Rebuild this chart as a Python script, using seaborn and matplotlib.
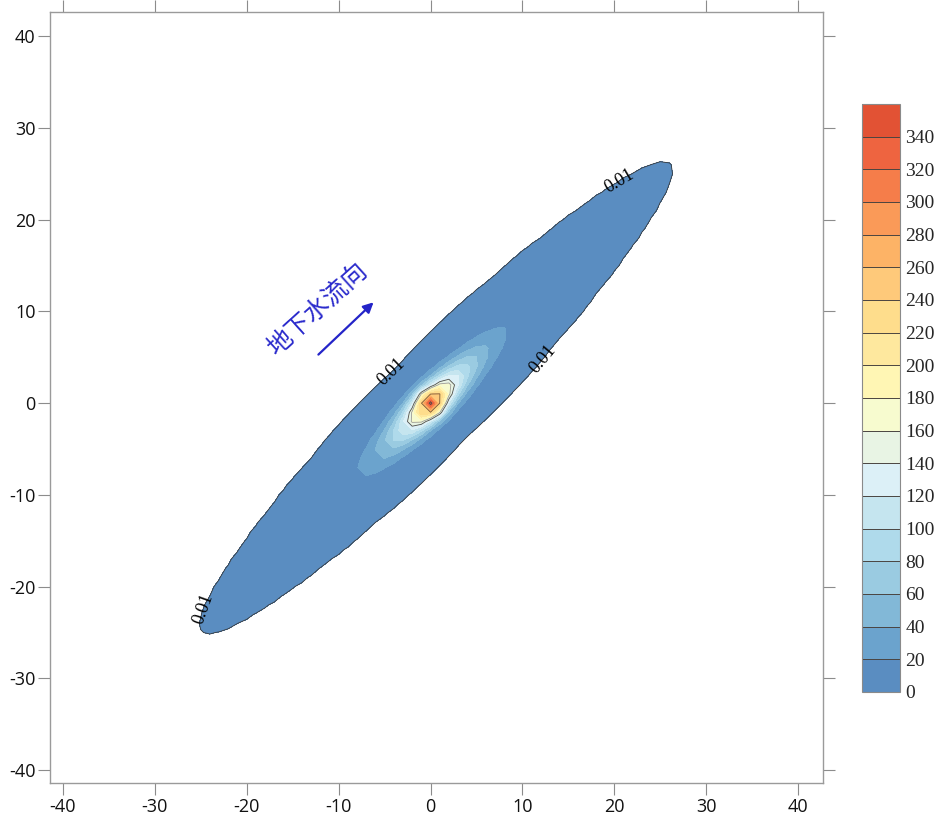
import numpy as np
import matplotlib
matplotlib.use("Agg")
import matplotlib.pyplot as plt
import matplotlib.cm as cm
from matplotlib.colors import ListedColormap, BoundaryNorm
import seaborn as sns

# ---- concentration classes and their fill colours -------------------------
class_bounds = list(range(0, 361, 20))          # colour-scale boundaries
fill_hex = [
    "#5a8dc1", "#6ba3cd", "#82b8d7", "#9acbe1", "#afdaeb", "#c5e5ef",
    "#dcf0f7", "#e8f4e4", "#f7fbcf", "#fff6b4", "#fee89e", "#fedd8c",
    "#fec97a", "#fdb366", "#fa9a58", "#f57d4a", "#ee6440", "#e25234",
]
plume_edge = 0.01                                # outermost contour (labelled)
line_levels = [140, 160, 240, 340]               # inner isolines
line_colors = ["#4d4d4d", "#9a9a9a", "#7a5a3a", "#4d4d4d"]
edge_label_pos = [(20.5, 24.3), (-3.5, 2.6), (11.7, 5.3), (-24.6, -22.4)]

# ---- plume model (u: along groundwater flow, v: across) -------------------
peak_conc = 358.0
flow_angle_deg = 45.0
stretch_upstream = 0.973
stretch_downstream = 1.02
along_lin, along_pow, along_quad = 0.29, 0.9, 0.0024
across_width = 1.59
spread_gain, spread_scale = 0.21, 7.0

grid = np.arange(-41.0, 43.0, 1.0)
X, Y = np.meshgrid(grid, grid)
th = np.deg2rad(flow_angle_deg)
U = X * np.cos(th) + Y * np.sin(th)
V = -X * np.sin(th) + Y * np.cos(th)
Ue = np.abs(U) / np.where(U >= 0, stretch_downstream, stretch_upstream)
S = 1.0 + spread_gain * (1 - np.exp(-np.abs(U) / spread_scale))
decay = (along_lin * Ue ** along_pow + along_quad * Ue ** 2
         + (V / (across_width * S)) ** 2)
C = peak_conc * np.exp(-decay)

# ---- figure -----------------------------------------------------------------
sns.set_style("ticks")
plt.rcParams["font.family"] = ["Open Sans", "DejaVu Sans"]
plt.rcParams["axes.unicode_minus"] = False

fig = plt.figure(figsize=(9.4, 8.23), dpi=100)
ax = fig.add_axes([50 / 940, 40 / 823, 773 / 940, 771.5 / 823])

fill_levels = [plume_edge] + class_bounds[1:]
ax.contourf(X, Y, C, levels=fill_levels, colors=fill_hex)
ax.contour(X, Y, C, levels=line_levels, colors=line_colors, linewidths=0.6)
edge = ax.contour(X, Y, C, levels=[plume_edge], colors="#3a3a3a", linewidths=0.6)
labels = ax.clabel(edge, fmt={plume_edge: "0.01"}, manual=edge_label_pos,
                   inline=False, fontsize=13, colors="black")
for t in labels:
    t.set_fontfamily(["Liberation Serif"])
    t.set_fontsize(13)

# flow direction annotation
ax.annotate("", xy=(-6.2, 11.0), xytext=(-12.2, 5.3),
            arrowprops=dict(arrowstyle="-|>", color="#2424c8", lw=1.6,
                            mutation_scale=15, shrinkA=0, shrinkB=0))
ax.text(-12.3, 10.2, "地下水流向", rotation=42, color="#2a2acc", fontsize=18,
        family=["Noto Sans CJK SC", "DejaVu Sans"], ha="center", va="center",
        rotation_mode="anchor")

ax.set_xlim(-41.4, 42.7)
ax.set_ylim(-41.4, 42.7)
ticks = list(range(-40, 41, 10))
ax.set_xticks(ticks)
ax.set_yticks(ticks)
ax.tick_params(axis="both", direction="out", length=8.5, width=0.8,
               color="#8c8c8c", top=True, right=True, labeltop=False,
               labelright=False, labelsize=13, pad=2, labelcolor="#111111")
for s in ax.spines.values():
    s.set_color("#9a9a9a")
    s.set_linewidth(1.0)

# ---- colour scale -----------------------------------------------------------
cax = fig.add_axes([862 / 940, (823 - 692) / 823, 38 / 940, 588 / 823])
cmap = ListedColormap(fill_hex)
norm = BoundaryNorm(class_bounds, cmap.N)
cb = fig.colorbar(cm.ScalarMappable(norm=norm, cmap=cmap), cax=cax,
                  ticks=class_bounds[:-1])
cb.ax.minorticks_off()
cb.ax.tick_params(which="both", length=0, labelsize=14, pad=4)
for t in cb.ax.get_yticklabels():
    t.set_fontfamily(["Liberation Serif"])
for b in class_bounds[1:-1]:
    cax.axhline(b, color="#4a4440", lw=0.7)
cb.outline.set_edgecolor("#8a8a8a")
cb.outline.set_linewidth(0.8)

fig.savefig("out.png", dpi=100)
